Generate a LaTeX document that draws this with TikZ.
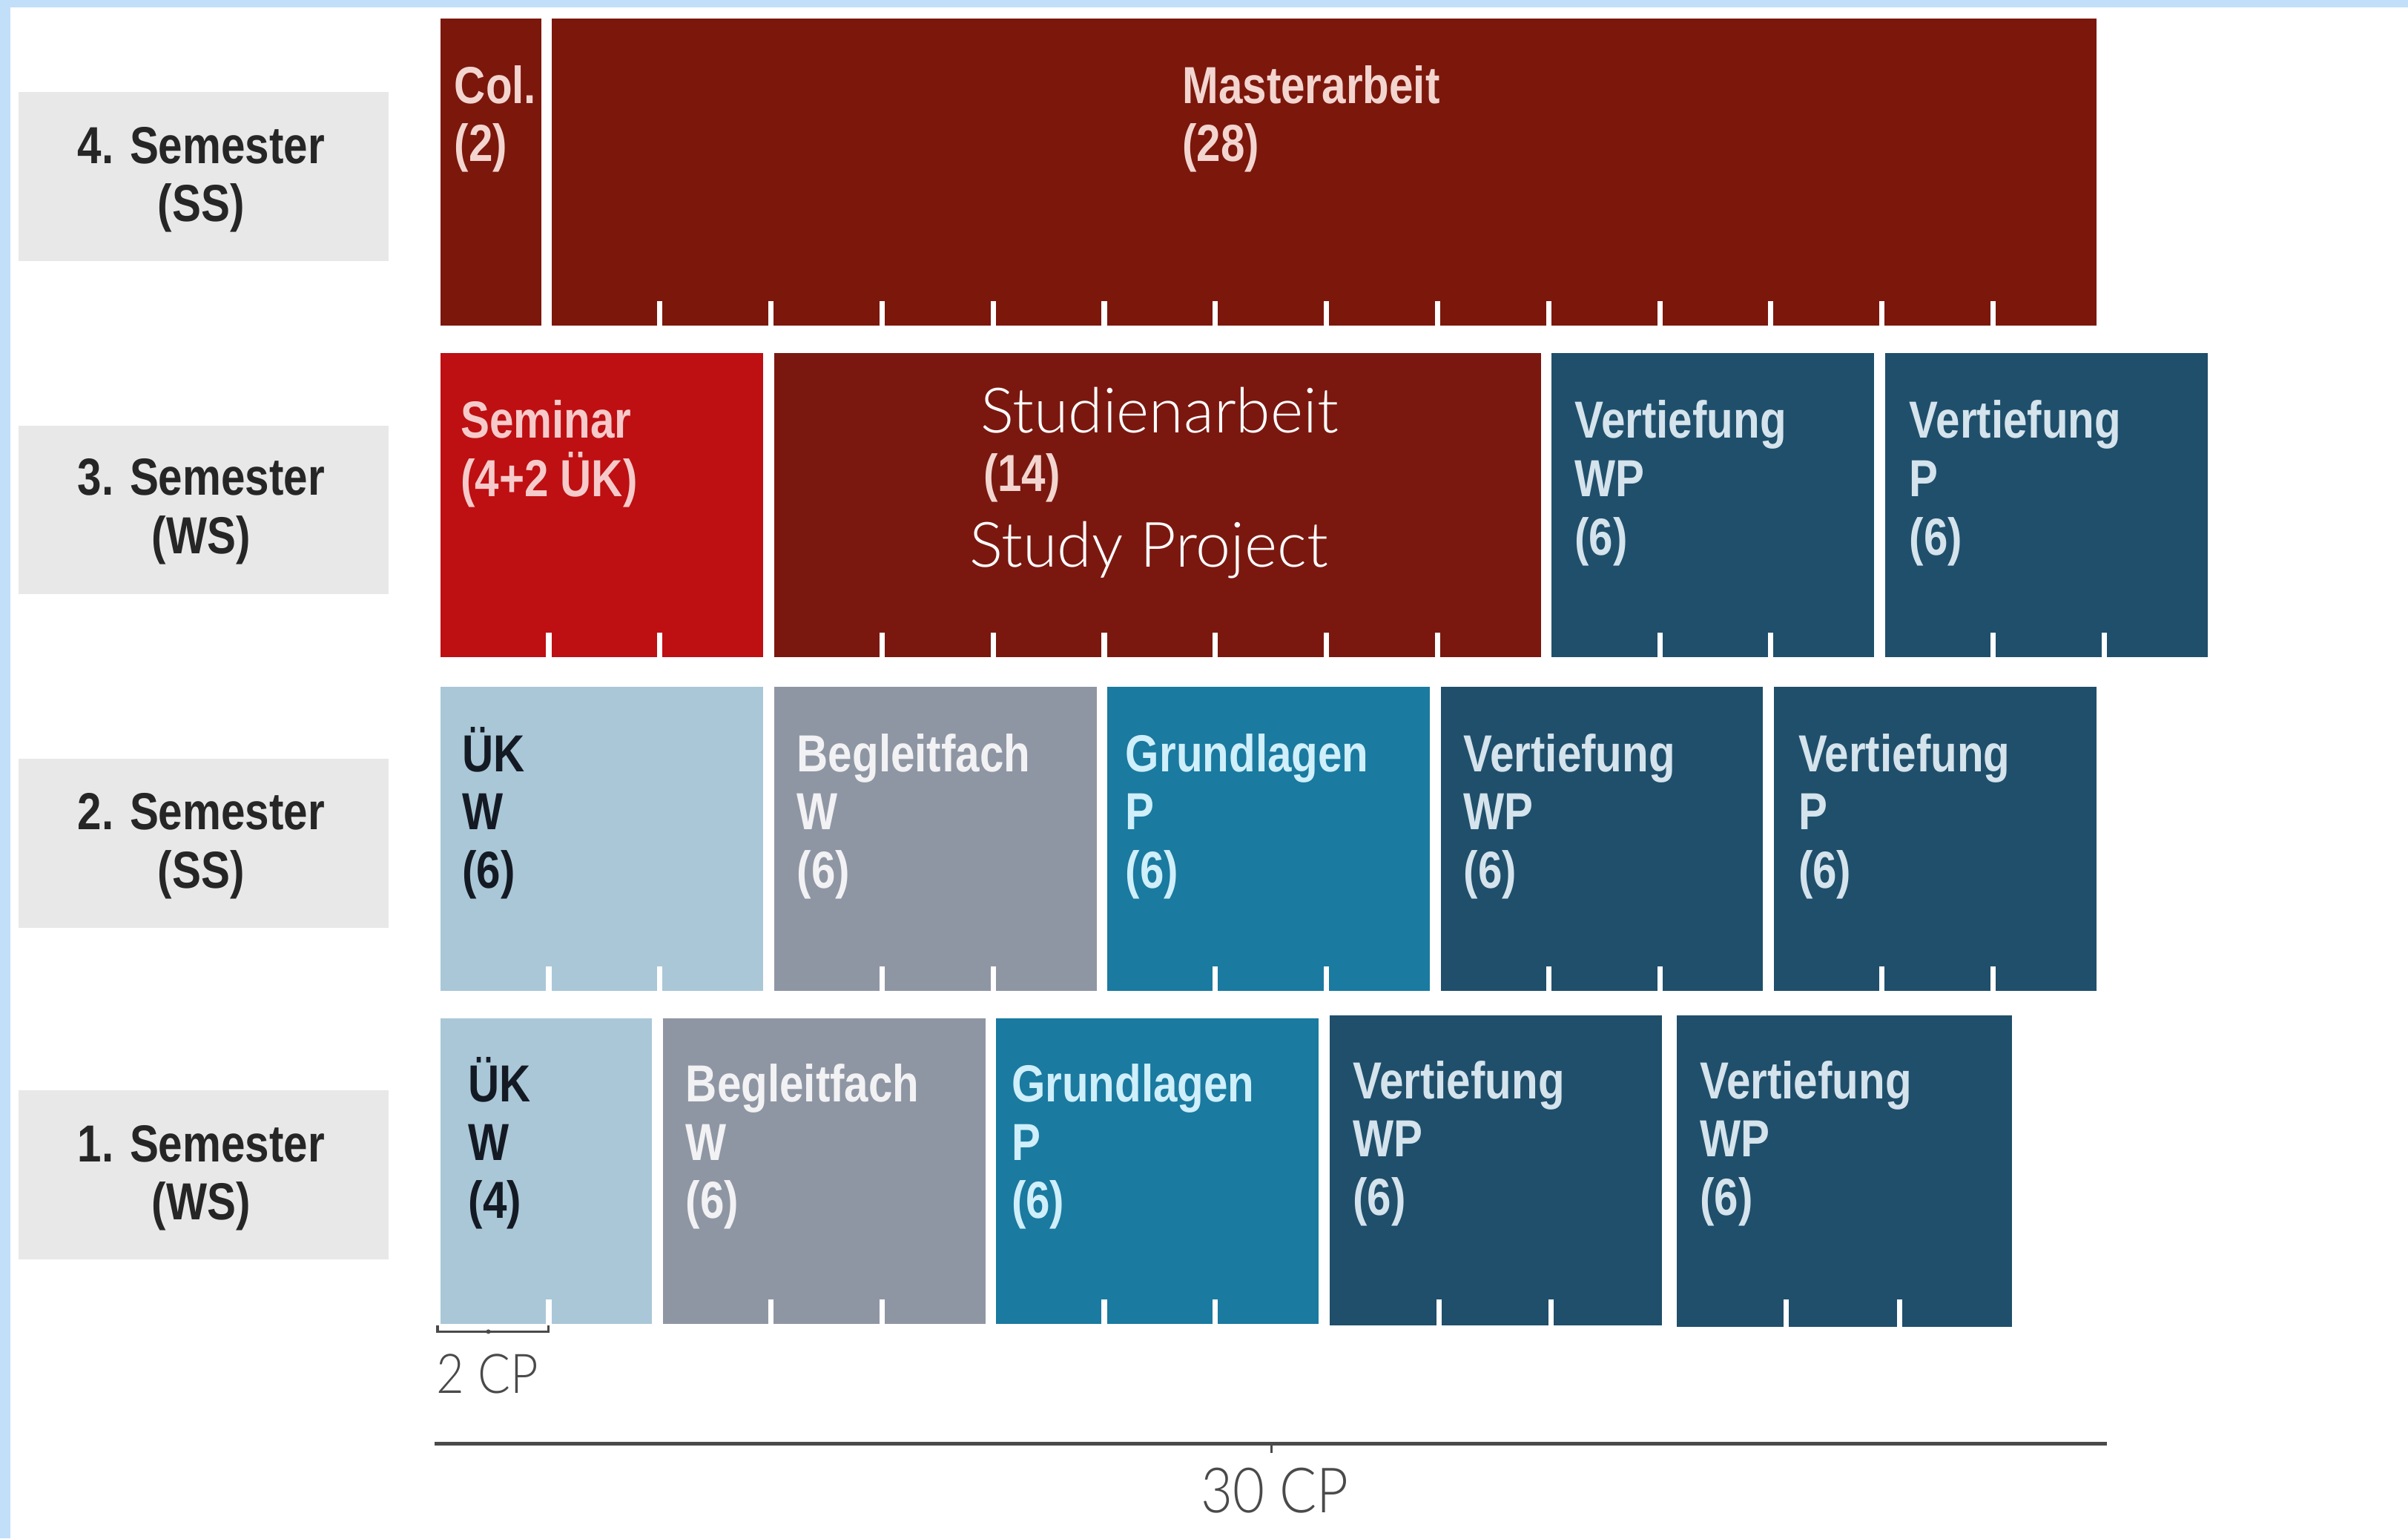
\documentclass[tikz,border=0pt]{standalone}
\usepackage{fontspec}
\setmainfont{Liberation Sans}
\newfontfamily\condf[FakeStretch=0.83]{Liberation Sans}
\newfontfamily\lightf{Lato Light}
\newfontfamily\lightc[FakeStretch=0.88]{Lato Light}
\usetikzlibrary{fit}
\definecolor{bordblue}{HTML}{C2DFFA}
\definecolor{semgray}{HTML}{E8E8E8}
\definecolor{semtext}{HTML}{262626}
\definecolor{dkred}{HTML}{7C170C}
\definecolor{studred}{HTML}{7A1810}
\definecolor{semred}{HTML}{BE0F12}
\definecolor{dkblue}{HTML}{1F4F6B}
\definecolor{grundblue}{HTML}{1A7AA0}
\definecolor{bggray}{HTML}{8F96A3}
\definecolor{ukblue}{HTML}{AAC7D7}
\definecolor{txred}{HTML}{F3D5D0}
\definecolor{txsem}{HTML}{F6CACA}
\definecolor{txblue}{HTML}{D5E3EC}
\definecolor{txgrund}{HTML}{CFEFFA}
\definecolor{txgray}{HTML}{F2F2F4}
\definecolor{txuk}{HTML}{141A24}
\definecolor{scalegray}{HTML}{4A4A4A}
\newcommand\cpx{287}
\newcommand\cpu{36.17}
\newcommand\firstln{\rule{0pt}{19pt}}
\newcommand\cpbox[6]{\node[blk, fill=#6, fit={({\cpx+#2*\cpu},#4) ({\cpx+#3*\cpu-7},#5)}] (#1) {};}
\newcommand\cpticks[2]{\foreach \k in {#2} {\draw[tickw] ({\cpx+\k*\cpu-2},#1+2) -- ({\cpx+\k*\cpu-2},#1-16);}}
\begin{document}
\begin{tikzpicture}[x=0.020708cm, y=-0.020708cm,
  blk/.style={inner sep=0pt, outer sep=0pt, draw=none},
  semb/.style={blk, fill=semgray},
  semt/.style={anchor=north, inner sep=0pt, outer sep=0pt, align=center, text=semtext,
    font=\condf\bfseries\fontsize{20}{22.4}\selectfont},
  lbl/.style={anchor=north west, inner sep=0pt, outer sep=0pt, align=left,
    font=\condf\bfseries\fontsize{20}{22.4}\selectfont},
  tickw/.style={draw=white, line width=2pt},
  scl/.style={draw=scalegray},
  cpl/.style={inner sep=0pt, text=scalegray}]
\path[use as bounding box, fill=white] (0,0) rectangle (1568,1001.55);
% border
\fill[bordblue] (0,0) rectangle (1568,5);
\fill[bordblue] (0,0) rectangle (7,1001.55);
% semester labels
\node[semb, fit={(12,60) (253,170)}] (s4) {};
\node[semb, fit={(12,277) (253,387)}] (s3) {};
\node[semb, fit={(12,494) (253,604)}] (s2) {};
\node[semb, fit={(12,710) (253,820)}] (s1) {};
\node[semt] (ts4) at (131,74) {\firstln 4. Semester\\(SS)};
\node[semt] (ts3) at (131,290) {\firstln 3. Semester\\(WS)};
\node[semt] (ts2) at (131,508) {\firstln 2. Semester\\(SS)};
\node[semt] (ts1) at (131,724) {\firstln 1. Semester\\(WS)};
% row 4
\cpbox{col}{0}{2}{12}{212}{dkred}
\cpbox{master}{2}{30}{12}{212}{dkred}
\cpticks{212}{4,6,...,28}
\node[lbl, text=txred] (tcol) at ([shift={(9,23)}]col.north west) {\firstln Col.\\(2)};
\node[lbl, text=txred] (tmaster) at (770,35) {\firstln Masterarbeit\\(28)};
% row 3
\cpbox{seminar}{0}{6}{230}{428}{semred}
\cpbox{studien}{6}{20}{230}{428}{studred}
\cpbox{vt3a}{20}{26}{230}{428}{dkblue}
\cpbox{vt3b}{26}{32}{230}{428}{dkblue}
\cpticks{428}{2,4,8,10,12,14,16,18,22,24,28,30}
\node[lbl, text=txsem] (tseminar) at ([shift={(13,23)}]seminar.north west) {\firstln Seminar\\(4+2 ÜK)};
\node[anchor=base, inner sep=0pt, text=white, font=\lightf\fontsize{24}{28}\selectfont] (tstud1) at (755,282) {Studienarbeit};
\node[anchor=west, inner sep=0pt, text=txred, font=\condf\bfseries\fontsize{20}{22.4}\selectfont] (tstud2) at (640,311) {(14)};
\node[anchor=base, inner sep=0pt, text=white, font=\lightf\fontsize{24}{28}\selectfont] (tstud3) at (748,369) {Study Project};
\node[lbl, text=txblue] (tvt3a) at ([shift={(15,23)}]vt3a.north west) {\firstln Vertiefung\\WP\\(6)};
\node[lbl, text=txblue] (tvt3b) at ([shift={(16,23)}]vt3b.north west) {\firstln Vertiefung\\P\\(6)};
% row 2
\cpbox{uek2}{0}{6}{447}{645}{ukblue}
\cpbox{begl2}{6}{12}{447}{645}{bggray}
\cpbox{grund2}{12}{18}{447}{645}{grundblue}
\cpbox{vt2a}{18}{24}{447}{645}{dkblue}
\cpbox{vt2b}{24}{30}{447}{645}{dkblue}
\cpticks{645}{2,4,8,10,14,16,20,22,26,28}
\node[lbl, text=txuk] (tuek2) at ([shift={(14,23)}]uek2.north west) {\firstln ÜK\\W\\(6)};
\node[lbl, text=txgray] (tbegl2) at ([shift={(15,23)}]begl2.north west) {\firstln Begleitfach\\W\\(6)};
\node[lbl, text=txgrund] (tgrund2) at ([shift={(12,23)}]grund2.north west) {\firstln Grundlagen\\P\\(6)};
\node[lbl, text=txblue] (tvt2a) at ([shift={(15,23)}]vt2a.north west) {\firstln Vertiefung\\WP\\(6)};
\node[lbl, text=txblue] (tvt2b) at ([shift={(16,23)}]vt2b.north west) {\firstln Vertiefung\\P\\(6)};
% row 1
\cpbox{uek1}{0}{4}{663}{862}{ukblue}
\cpbox{begl1}{4}{10}{663}{862}{bggray}
\cpbox{grund1}{10}{16}{663}{862}{grundblue}
\node[blk, fill=dkblue, fit={(866,661) (1082,863)}] (vt1a) {};
\node[blk, fill=dkblue, fit={(1092,661) (1310,864)}] (vt1b) {};
\cpticks{862}{2,6,8,12,14}
\foreach \tx in {937,1010,1163,1237} {\draw[tickw] (\tx,864) -- (\tx,846);}
\node[lbl, text=txuk] (tuek1) at ([shift={(18,22)}]uek1.north west) {\firstln ÜK\\W\\(4)};
\node[lbl, text=txgray] (tbegl1) at ([shift={(15,22)}]begl1.north west) {\firstln Begleitfach\\W\\(6)};
\node[lbl, text=txgrund] (tgrund1) at ([shift={(10,22)}]grund1.north west) {\firstln Grundlagen\\P\\(6)};
\node[lbl, text=txblue] (tvt1a) at ([shift={(15,22)}]vt1a.north west) {\firstln Vertiefung\\WP\\(6)};
\node[lbl, text=txblue] (tvt1b) at ([shift={(15,22)}]vt1b.north west) {\firstln Vertiefung\\WP\\(6)};
% scale bars
\coordinate (b2l) at (285,867);
\coordinate (b2r) at (357,867);
\draw[scl, line width=1pt] ([yshift=0.08cm]b2l) -- (b2l) -- (b2r) -- ([yshift=0.08cm]b2r);
\fill[scalegray] (318,867) circle (0.03cm);
\node[cpl, anchor=base west, font=\lightc\fontsize{21}{24}\selectfont] (cp2) at (284,907) {2 CP};
\coordinate (b30l) at (283,940);
\coordinate (b30r) at (1372,940);
\coordinate (b30m) at (828,940);
\draw[scl, line width=1.6pt] (b30l) -- (b30r);
\draw[scl, line width=0.8pt] (b30m) -- ++(0,6);
\node[cpl, anchor=base, font=\lightc\fontsize{24}{28}\selectfont] (cp30) at (830,985) {30 CP};
\end{tikzpicture}
\end{document}
